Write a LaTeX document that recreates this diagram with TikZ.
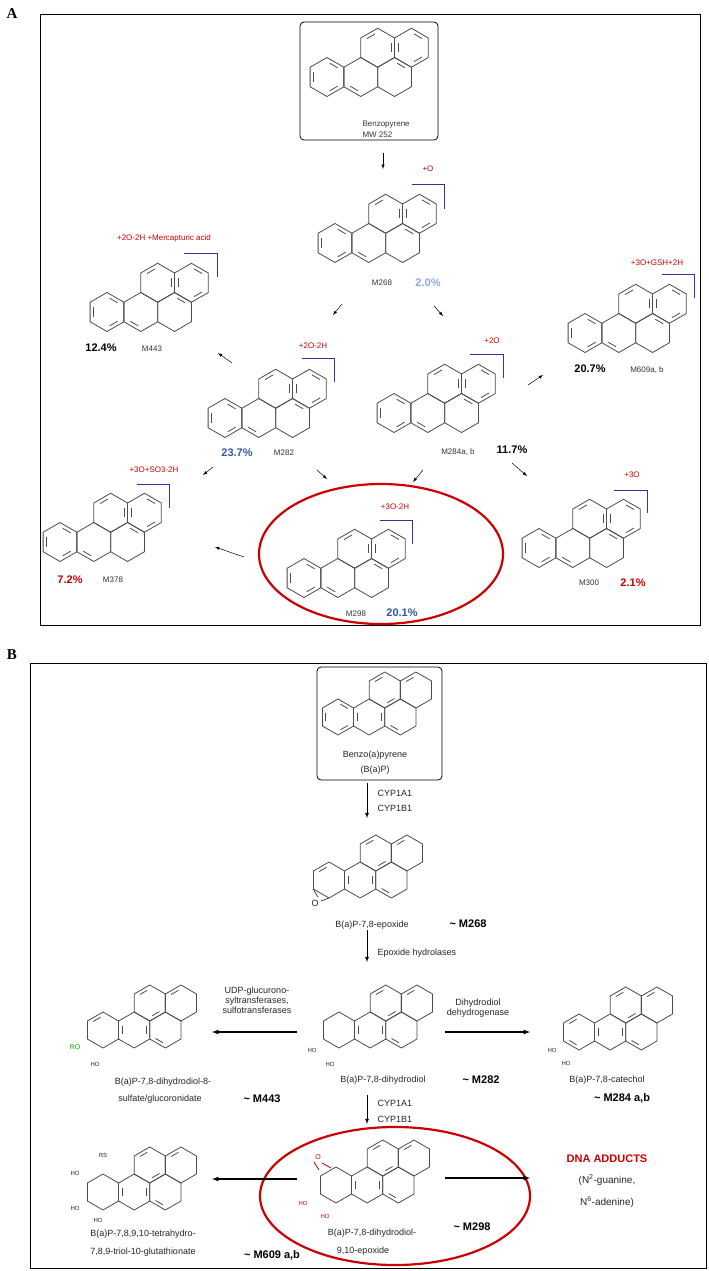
\documentclass[tikz,border=0pt]{standalone}
\usepackage{fontspec}
\setmainfont{Liberation Sans}
\newfontfamily\tms{Liberation Serif}
\begin{document}
\begin{tikzpicture}[x=1pt,y=-1pt,
  mol/.style={line width=0.8pt,draw=black!70},
  br/.style={draw=blue!55!black!80,line width=1pt},
  red/.style={text=red!80!black,font=\fontsize{8}{9}\selectfont},
  lab/.style={font=\fontsize{8}{9}\selectfont,text=black!80},
  pct/.style={font=\bfseries\fontsize{11}{12}\selectfont},
  sa/.style={-latex,line width=0.5pt},
  ba/.style={-latex,line width=1.2pt},
  bt/.style={font=\fontsize{9}{10}\selectfont,text=black!85,align=center},
  sm/.style={font=\fontsize{6}{7}\selectfont,text=black!85},
  bb/.style={font=\bfseries\fontsize{11}{12}\selectfont}]
\definecolor{lblue}{RGB}{140,170,220}
\definecolor{dblue}{RGB}{50,90,160}
\newcommand\bapmol[4]{%
 \begin{scope}[shift={(#1,#2)}]
  \foreach \cx/\cy in {0/0,1/0,2/0,1.5/-1,2.5/-1}
   \draw[mol] ({\cx*1.732*#3},{\cy*1.5*#3}) +(30:#3) -- +(90:#3) -- +(150:#3) -- +(210:#3) -- +(270:#3) -- +(330:#3) -- cycle;
  \foreach \cx/\cy/\a in #4
   \draw[mol] ({\cx*1.732*#3},{\cy*1.5*#3}) +(\a+11:0.72*#3) -- +(\a+49:0.72*#3);
 \end{scope}}
\def\arom{0/0/30,0/0/150,0/0/270,1/0/90,2/0/270,1.5/-1/210,1.5/-1/330,2.5/-1/150,2.5/-1/30,2.5/-1/270}
\def\hyd{0/0/210,1/0/330,2/0/90,1/0/150,1.5/-1/30,1.5/-1/210,2.5/-1/210}
\def\hydb{1/0/330,2/0/90,1/0/150,1.5/-1/30,1.5/-1/210,2.5/-1/210}
\def\hydtop{1/0/330,2/0/90,1/0/150,1.5/-1/30,1.5/-1/210,2.5/-1/210,0/0/30,0/0/150,0/0/270}
\def\hydro{1/0/330,2/0/90,1/0/150,1.5/-1/30,1.5/-1/210,2.5/-1/210,0/0/210}
\def\hydcat{1/0/330,2/0/90,1/0/150,1.5/-1/30,1.5/-1/210,2.5/-1/210,0/0/210,0/0/90}
\useasboundingbox (0,0) rectangle (709,1271);
\fill[white] (0,0) rectangle (709,1271);
% ---------- Panel A
\node[font=\tms\bfseries\fontsize{15}{15}\selectfont] (A) at (12,14) {A};
\draw[line width=1pt] (40,15) rectangle (700,625);
\draw[rounded corners=4pt,line width=0.8pt] (300,22) rectangle (438,140);
\bapmol{327}{77}{19.5}{\arom}
\node[lab,anchor=west] (bp) at (359,125) {Benzopyrene};
\node[lab,anchor=west] (mw) at (359,135) {MW 252};
% M268
\bapmol{335}{243}{19.5}{\arom}
\node[red] at (428,169) {+O};
\draw[br] (412,184) -- (444,184) -- (444,209);
\node[lab] (m268) at (382,283) {M268};
\node[pct,text=lblue] at (428,283) {2.0\%};
% M443
\bapmol{107}{312}{19.5}{\arom}
\node[red] at (164,238) {+2O-2H +Mercapturic acid};
\draw[br] (184,253) -- (217,253) -- (217,277);
\node[pct] at (101,348) {12.4\%};
\node[lab] (m443) at (152,349) {M443};
% M282
\bapmol{225}{418}{19.5}{\arom}
\node[red] at (313,346) {+2O-2H};
\draw[br] (302,358) -- (334,358) -- (334,382);
\node[pct,text=dblue] at (237,453) {23.7\%};
\node[lab] (m282) at (284,453) {M282};
% M284
\bapmol{394}{413}{19.5}{\arom}
\node[red] at (492,341) {+2O};
\draw[br] (470,354) -- (503,354) -- (503,378);
\node[lab] (m284) at (458,452) {M284a, b};
\node[pct] at (512,450) {11.7\%};
% M609
\bapmol{585}{333}{19.5}{\arom}
\node[red] at (657,263) {+3O+GSH+2H};
\draw[br] (662,274) -- (694,274) -- (694,298);
\node[pct] at (590,369) {20.7\%};
\node[lab] (m609) at (647,370) {M609a, b};
% M378
\bapmol{60}{542}{19.5}{\arom}
\node[red] at (154,470) {+3O+SO3-2H};
\draw[br] (137,484) -- (169,484) -- (169,508);
\node[pct,text=red!80!black] at (70,580) {7.2\%};
\node[lab] (m378) at (113,580) {M378};
% M298
\draw[red!80!black,line width=2.2pt] (381,554) ellipse (122 and 70);
\bapmol{304}{578}{19.5}{\arom}
\node[red] at (395,507) {+3O-2H};
\draw[br] (380,520) -- (412,520) -- (412,544);
\node[lab] (m298) at (356,614) {M298};
\node[pct,text=dblue] at (402,613) {20.1\%};
% M300
\bapmol{539}{548}{19.5}{\arom}
\node[red] at (632,475) {+3O};
\draw[br] (614,490) -- (647,490) -- (647,513);
\node[lab] (m300) at (589,583) {M300};
\node[pct,text=red!80!black] at (633,583) {2.1\%};
% arrows A
\coordinate (a1s) at (383,153); \coordinate (a1e) at (383,169);
\coordinate (a2s) at (342,304); \coordinate (a2e) at (333,315);
\coordinate (a3s) at (434,306); \coordinate (a3e) at (443,316);
\coordinate (a4s) at (232,363); \coordinate (a4e) at (218,353);
\coordinate (a5s) at (528,385); \coordinate (a5e) at (543,375);
\coordinate (a6s) at (213,467); \coordinate (a6e) at (203,475);
\coordinate (a7s) at (317,470); \coordinate (a7e) at (327,479);
\coordinate (a8s) at (423,470); \coordinate (a8e) at (413,482);
\coordinate (a9s) at (512,463); \coordinate (a9e) at (527,476);
\coordinate (a10s) at (244,557); \coordinate (a10e) at (215,547);
\foreach \i in {1,...,10} \draw[sa] (a\i s) -- (a\i e);
% ---------- Panel B
\node[font=\tms\bfseries\fontsize{15}{15}\selectfont] (B) at (12,655) {B};
\draw[line width=1pt] (30,663) rectangle (706,1268);
\draw[rounded corners=4pt,line width=0.8pt] (317,667) rectangle (442,780);
\bapmol{338}{717}{18}{\hydtop}
\node[bt] (bap) at (375,755) {Benzo(a)pyrene};
\node[bt] at (375,770) {(B(a)P)};
% epoxide
\bapmol{329}{880}{18}{\hyd}
\node[bt] at (315,903) {O};
\draw[mol] (313,889) -- (318,897) (329,898)--(321,901);
\node[bt] (epo) at (372,925) {B(a)P-7,8-epoxide};
\node[bb] at (468,924) {\textasciitilde\ M268};
% dihydrodiol M282
\bapmol{339}{1030}{18}{\hydb}
\node[sm] at (312,1050) {HO};
\node[sm] at (330,1064) {HO};
\node[bt] (dhd) at (383,1080) {B(a)P-7,8-dihydrodiol};
\node[bb] at (481,1080) {\textasciitilde\ M282};
% M443 B
\bapmol{103}{1030}{18}{\hydro}
\node[font=\fontsize{7}{8}\selectfont,text=green!70!black] at (75,1047) {RO};
\node[sm] at (95,1064) {HO};
\node[bt] at (163,1082) {B(a)P-7,8-dihydrodiol-8-};
\node[bt] at (160,1099) {sulfate/glucoronidate};
\node[bb] at (262,1099) {\textasciitilde\ M443};
\node[bt,align=center] at (257,1000) {UDP-glucurono-\\syltransferases,\\sulfotransferases};
% catechol
\bapmol{579}{1032}{18}{\hydcat}
\node[sm] at (552,1050) {HO};
\node[sm] at (566,1063) {HO};
\node[bt] at (607,1080) {B(a)P-7,8-catechol};
\node[bb] at (622,1098) {\textasciitilde\ M284 a,b};
\node[bt,align=center] at (478,1008) {Dihydrodiol\\dehydrogenase};
% M298 B
\draw[red!80!black,line width=2.2pt] (395,1196) ellipse (135 and 69);
\bapmol{336}{1185}{18}{\hydb}
\node[font=\fontsize{7}{8}\selectfont,text=red!80!black] at (318,1157) {O};
\draw[mol,draw=red!70!black] (314,1162) -- (319,1170) (331,1168)--(322,1163);
\node[sm,text=red!80!black] at (303,1203) {HO};
\node[sm,text=red!80!black] at (325,1216) {HO};
\node[bt] at (372,1233) {B(a)P-7,8-dihydrodiol-};
\node[bt] at (363,1251) {9,10-epoxide};
\node[bb] at (472,1227) {\textasciitilde\ M298};
\node[font=\bfseries\fontsize{11}{12}\selectfont,text=red!80!black] (dna) at (607,1159) {DNA ADDUCTS};
\node[bt,font=\fontsize{10}{11}\selectfont] at (607,1180) {(N\textsuperscript{2}-guanine,};
\node[bt,font=\fontsize{10}{11}\selectfont] at (607,1202) {N\textsuperscript{6}-adenine)};
% M609 B
\bapmol{103}{1192}{18}{\hydb}
\node[sm] at (103,1155) {RS};
\node[sm] at (75,1173) {HO};
\node[sm] at (75,1208) {HO};
\node[sm] at (98,1220) {HO};
\node[bt] at (143,1234) {B(a)P-7,8,9,10-tetrahydro-};
\node[bt] at (143,1252) {7,8,9-triol-10-glutathionate};
\node[bb] at (272,1255) {\textasciitilde\ M609 a,b};
% arrows B
\coordinate (b1s) at (367,783); \coordinate (b1e) at (367,818);
\coordinate (b2s) at (367,930); \coordinate (b2e) at (367,962);
\coordinate (b3s) at (297,1032); \coordinate (b3e) at (212,1032);
\coordinate (b4s) at (445,1032); \coordinate (b4e) at (530,1032);
\coordinate (b5s) at (367,1095); \coordinate (b5e) at (367,1124);
\coordinate (b6s) at (445,1178); \coordinate (b6e) at (530,1178);
\coordinate (b7s) at (297,1179); \coordinate (b7e) at (212,1179);
\foreach \i in {1,2,5} \draw[-latex,line width=0.8pt] (b\i s) -- (b\i e);
\foreach \i in {3,4,6,7} \draw[ba] (b\i s) -- (b\i e);
\node[bt,anchor=west] at (374,793) {CYP1A1};
\node[bt,anchor=west] at (374,808) {CYP1B1};
\node[bt,anchor=west] at (374,953) {Epoxide hydrolases};
\node[bt,anchor=west] at (374,1103) {CYP1A1};
\node[bt,anchor=west] at (374,1119) {CYP1B1};
\end{tikzpicture}
\end{document}
